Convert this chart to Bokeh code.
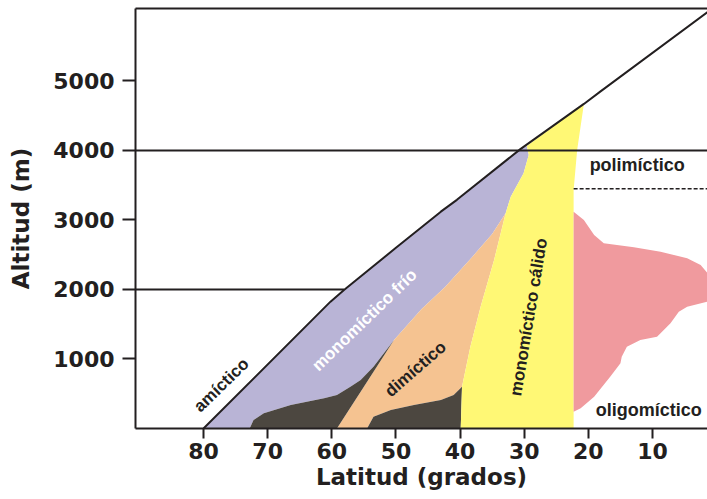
from bokeh.plotting import figure
from bokeh.models import Range1d, FixedTicker, LinearAxis, Span
from bokeh.core.properties import value
from bokeh.embed import file_html
from bokeh.resources import INLINE

# ---------------- data ----------------
x_ticks = [80, 70, 60, 50, 40, 30, 20, 10]
y_ticks = [1000, 2000, 3000, 4000, 5000]

# upper limit of lakes (amíctico boundary)
diag_lat = [80, 60.2, 58.1, 50, 43.0, 40.5, 30.6, 20.7, 18.1, 1.4]
diag_alt = [0, 1825, 1993, 2600, 3120, 3290, 4020, 4670, 4850, 5994]

# monomíctico frío (purple)
frio_lat = [80, 60.2, 58.1, 50, 43.0, 40.5, 30.6, 29.6, 29.3, 30.1, 32.1, 32.9,
            35.0, 38.0, 42.3, 46.0, 50.3, 53.5, 55.5, 57.1, 59.2, 61.2, 66.4,
            70.6, 72.2, 72.8]
frio_alt = [0, 1825, 1993, 2600, 3120, 3290, 4020, 4065, 3935, 3672, 3336, 3097,
            2800, 2480, 2040, 1720, 1273, 889, 698, 601, 482, 434, 338,
            219, 122, 0]

# dark region 1 (under monomíctico frío)
dark1_lat = [72.8, 72.2, 70.6, 66.4, 61.2, 59.2, 57.1, 55.5, 53.5, 50.3, 55.0, 59.2]
dark1_alt = [0, 122, 219, 338, 434, 482, 601, 698, 889, 1273, 601, 0]

# dimíctico (orange)
dim_lat = [59.2, 55.0, 50.3, 46.0, 42.3, 38.0, 35.0, 32.9, 34.7, 36.8, 38.4,
           39.7, 41.0, 43.0, 47.2, 50.8, 53.5, 54.5]
dim_alt = [0, 601, 1273, 1720, 2040, 2480, 2800, 3097, 2425, 1753, 1177,
           601, 482, 410, 338, 266, 170, 0]

# dark region 2 (under dimíctico)
dark2_lat = [54.5, 53.5, 50.8, 47.2, 43.0, 41.0, 39.7, 39.9]
dark2_alt = [0, 170, 266, 338, 410, 482, 601, 0]

# monomíctico cálido (yellow)
cal_lat = [39.9, 39.7, 38.4, 36.8, 34.7, 32.9, 32.1, 30.1, 29.3, 29.6, 20.7,
           21.75, 22.3, 22.3]
cal_alt = [0, 601, 1177, 1753, 2425, 3097, 3336, 3672, 3935, 4065, 4670,
           4008, 3432, 0]

# oligomíctico (pink)
oli_lat = [22.3, 20.7, 19.1, 17.6, 12.9, 8.75, 4.6, 2.5, 1.4, 1.4, 4.6, 5.9,
           7.2, 8.75, 9.3, 11.9, 14.0, 14.8, 15.0, 16.6, 19.1, 21.2, 22.3]
oli_alt = [3120, 3000, 2784, 2665, 2607, 2544, 2449, 2353, 2233, 1825, 1753, 1681,
           1514, 1370, 1321, 1273, 1177, 1033, 938, 745, 458, 291, 242]

# reference lines
line2000_lat = [90.6, 58.1]
line2000_alt = [2000, 2000]
poli_lat = [22.3, 0.0]
poli_alt = [3450, 3450]

# region labels
lab_text = ["amíctico", "monomíctico frío", "dimíctico", "monomíctico cálido"]
lab_lat = [77.2, 54.9, 46.95, 29.3]
lab_alt = [625, 1560, 856, 1604]
lab_ang = [44, 44, 41, 80.5]
lab_col = ["#231f20", "#ffffff", "#231f20", "#231f20"]

bold_text = ["polimíctico", "oligomíctico"]
bold_lat = [12.4, 10.6]
bold_alt = [3792, 266]

# ---------------- figure ----------------
INK = "#231f20"
FONT = "Liberation Sans"
AXFONT = "DejaVu Sans"

p = figure(frame_width=572, frame_height=420,
           x_range=Range1d(90.6, 1.43), y_range=Range1d(0, 6043),
           output_backend="svg", toolbar_location=None,
           min_border_left=135, min_border_right=0, min_border_top=8,
           min_border_bottom=71)
p.grid.visible = False
p.outline_line_color = None
p.background_fill_color = "white"
p.border_fill_color = "white"

p.patch(frio_lat, frio_alt, fill_color="#b9b4d6", line_color=None)
p.patch(dim_lat, dim_alt, fill_color="#f5c391", line_color=None)
p.patch(dark1_lat, dark1_alt, fill_color="#4c4740", line_color=None)
p.patch(dark2_lat, dark2_alt, fill_color="#4c4740", line_color=None)
p.patch(cal_lat, cal_alt, fill_color="#fff875", line_color=None)
p.patch(oli_lat, oli_alt, fill_color="#f09a9e", line_color=None)

p.line(diag_lat, diag_alt, line_color=INK, line_width=2)
p.line(line2000_lat, line2000_alt, line_color=INK, line_width=2)
p.add_layout(Span(location=4000, dimension="width", line_color=INK, line_width=2))
p.line(poli_lat, poli_alt, line_color=INK, line_width=1.6, line_dash="4 2")

p.text(x=lab_lat, y=lab_alt, text=lab_text, angle=lab_ang, angle_units="deg",
       text_color=lab_col, text_font=value(FONT), text_font_size="17px",
       text_font_style="bold", text_align="center", text_baseline="middle")
p.text(x=bold_lat, y=bold_alt, text=bold_text,
       text_color=INK, text_font=value(FONT), text_font_size="18px",
       text_font_style="bold", text_align="center", text_baseline="middle")

for ax in (p.xaxis[0], p.yaxis[0]):
    ax.axis_line_width = 2
    ax.axis_line_color = INK
    ax.major_tick_line_color = INK
    ax.major_tick_line_width = 2
    ax.major_tick_in = 0
    ax.minor_tick_out = 0
    ax.minor_tick_in = 0
    ax.major_label_text_font = AXFONT
    ax.major_label_text_font_style = "bold"
    ax.major_label_text_font_size = "22px"
    ax.major_label_text_color = INK
    ax.axis_label_text_font = AXFONT
    ax.axis_label_text_font_style = "bold"
    ax.axis_label_text_font_size = "23px"
    ax.axis_label_text_color = INK

p.xaxis.ticker = FixedTicker(ticks=x_ticks)
p.yaxis.ticker = FixedTicker(ticks=y_ticks)
p.xaxis.major_tick_out = 10
p.yaxis.major_tick_out = 13
p.xaxis.major_label_standoff = 4
p.yaxis.major_label_standoff = 8
p.xaxis.axis_label = "Latitud (grados)"
p.yaxis.axis_label = "Altitud (m)"
p.xaxis.axis_label_standoff = 2
p.yaxis.axis_label_standoff = 16

top = LinearAxis(ticker=FixedTicker(ticks=[]), axis_line_width=2, axis_line_color=INK,
                 major_tick_out=0, major_tick_in=0, minor_tick_out=0, minor_tick_in=0,
                 major_label_text_font_size="0px")
p.add_layout(top, "above")

open("out.html", "w").write(file_html(p, INLINE))
